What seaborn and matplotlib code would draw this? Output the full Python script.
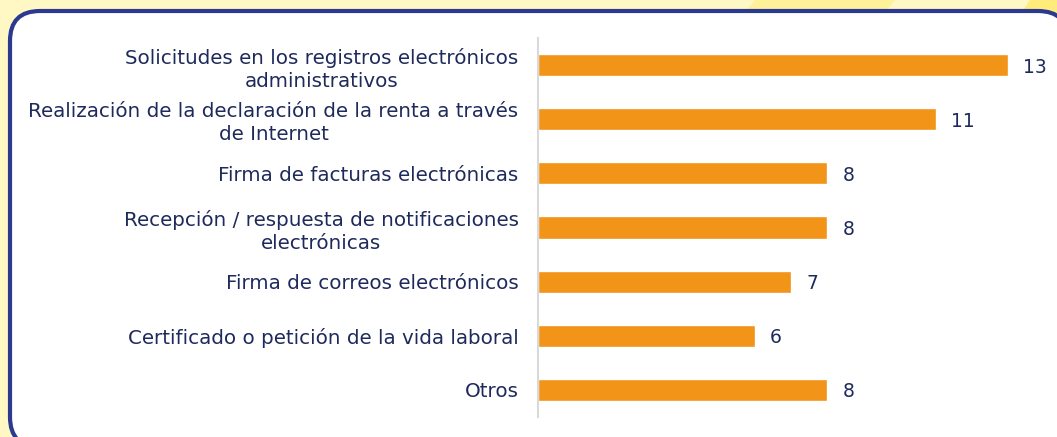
import matplotlib
matplotlib.use("Agg")
import matplotlib.pyplot as plt
from matplotlib.patches import FancyBboxPatch, Polygon
import seaborn as sns
import pandas as pd

categories = [
    "Solicitudes en los registros electrónicos\nadministrativos",
    "Realización de la declaración de la renta a través\nde Internet",
    "Firma de facturas electrónicas",
    "Recepción / respuesta de notificaciones\nelectrónicas",
    "Firma de correos electrónicos",
    "Certificado o petición de la vida laboral",
    "Otros",
]
values = [13, 11, 8, 8, 7, 6, 8]

df = pd.DataFrame({"cat": categories, "val": values})

sns.set_theme(style="white")
plt.rcParams['font.family'] = ['DejaVu Sans']

W, H = 1057, 437
fig = plt.figure(figsize=(W / 100, H / 100), dpi=100)
fig.patch.set_facecolor("#FFF7C4")

# background decoration
bg = fig.add_axes([0, 0, 1, 1], zorder=-2)
bg.set_xlim(0, W)
bg.set_ylim(H, 0)
bg.axis("off")
bg.add_patch(Polygon([[755, 0], [895, 0], [870, 30], [730, 30]], closed=True,
                     facecolor="#FFF19A", edgecolor="none"))
bg.add_patch(Polygon([[1030, 0], [1057, 0], [1057, 30], [1010, 30]], closed=True,
                     facecolor="#FFEC7A", edgecolor="none"))
panel = FancyBboxPatch((10, 11), 1058, 436,
                       boxstyle="round,pad=0,rounding_size=30",
                       facecolor="white", edgecolor="#2B3990", linewidth=3)
bg.add_patch(panel)

navy = "#1F2A5C"
ax_left, ax_right = 538, 1040
ax_top, ax_bottom = 38, 417
ax = fig.add_axes([ax_left / W, 1 - ax_bottom / H,
                   (ax_right - ax_left) / W, (ax_bottom - ax_top) / H])
ax.patch.set_alpha(0)

sns.barplot(data=df, x="val", y="cat", color="#F29418", width=0.41,
            saturation=1, ax=ax, orient="h")

px_per_unit = (1008 - 538) / 13
ax.set_xlim(0, (ax_right - ax_left) / px_per_unit)
ax.set_xlabel("")
ax.set_ylabel("")
ax.set_xticks([])
for s in ["top", "right", "bottom"]:
    ax.spines[s].set_visible(False)
ax.spines["left"].set_color("#D9D9D9")
ax.spines["left"].set_linewidth(1.5)
ax.tick_params(axis="y", length=0, pad=14)
for lbl in ax.get_yticklabels():
    lbl.set_color(navy)
    lbl.set_fontsize(14.3)
    lbl.set_multialignment("center")
    lbl.set_linespacing(1.27)

for i, v in enumerate(values):
    ax.text(v + 0.42, i, str(v), va="center_baseline", ha="left", color=navy,
            fontsize=13.5, clip_on=False)

fig.savefig("out.png", dpi=100)
